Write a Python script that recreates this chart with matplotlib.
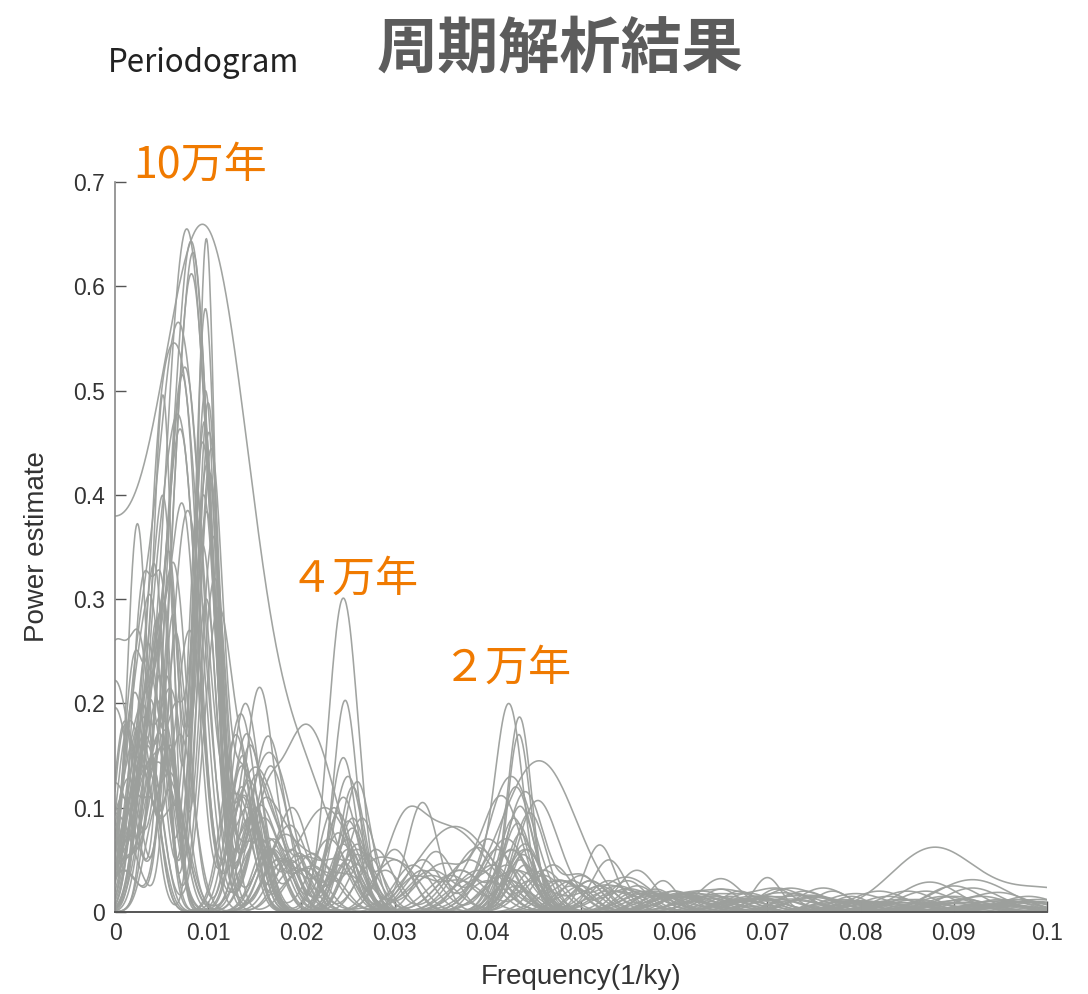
import numpy as np
import matplotlib
matplotlib.use("Agg")
import matplotlib.pyplot as plt

plt.rcParams['font.family'] = ['Noto Sans CJK JP', 'DejaVu Sans']

# ---------------- data (peaks) ----------------
# Each series is the sum of its band peaks: centre (1/ky), height, width
# Band L: lowest frequencies (0 - 0.005)
L_f = [-0.004, 0.0020, 0.0015, 0.000, 0.0010, 0.0030, 0.0038, 0.0012, 0.0010, 0.0015,
       0.0020, 0.0030, 0.000, 0.0025, 0.0010, 0.0020, 0.000, 0.000, 0.0045, 0.000,
       0.0042, 0.0010, 0.0018, 0.0035, 0.0040, 0.0044, 0.0012, 0.0033, 0.0024, 0.0040,
       0.0015, 0.0036, 0.0040, 0.0030, 0.0018, 0.0038, 0.0032, 0.0045, 0.0020, 0.0043,
       0.0015, 0.0025, 0.0035, 0.0010, 0.0030, 0.0028, 0.0015, 0.0042, 0.0008, 0.0034]
L_h = [0.36, 0.06, 0.05, 0.257, 0.04, 0.08, 0.22, 0.05, 0.06, 0.07,
       0.04, 0.31, 0.222, 0.09, 0.05, 0.06, 0.196, 0.124, 0.20, 0.095,
       0.17, 0.05, 0.04, 0.16, 0.27, 0.14, 0.06, 0.19, 0.372, 0.12,
       0.05, 0.23, 0.10, 0.15, 0.08, 0.13, 0.18, 0.11, 0.07, 0.09,
       0.06, 0.12, 0.10, 0.05, 0.08, 0.14, 0.07, 0.11, 0.04, 0.09]
L_w = [0.0050, 0.0015, 0.0015, 0.0022, 0.0015, 0.0014, 0.0012, 0.0016, 0.0015, 0.0014,
       0.0016, 0.0012, 0.0020, 0.0013, 0.0015, 0.0014, 0.0018, 0.0020, 0.0012, 0.0021,
       0.0012, 0.0015, 0.0015, 0.0013, 0.0012, 0.0012, 0.0015, 0.0013, 0.0011, 0.0013,
       0.0015, 0.0012, 0.0012, 0.0013, 0.0015, 0.0012, 0.0013, 0.0012, 0.0015, 0.0012,
       0.0015, 0.0013, 0.0013, 0.0016, 0.0013, 0.0013, 0.0015, 0.0012, 0.0016, 0.0013]

# Band L2: second low-frequency lobe (0.0005 - 0.0065)
L2_f = [0.0040, 0.0008, 0.0050, 0.0030, 0.0060, 0.0012, 0.0055, 0.0025, 0.0045, 0.0035,
        0.0015, 0.0052, 0.0062, 0.0020, 0.0040, 0.0030, 0.0058, 0.0048, 0.0010, 0.0065,
        0.0028, 0.0042, 0.0005, 0.0054, 0.0018, 0.0060, 0.0035, 0.0046, 0.0056, 0.0022,
        0.0038, 0.0064, 0.0012, 0.0050, 0.0030, 0.0058, 0.0008, 0.0044, 0.0026, 0.0062,
        0.0034, 0.0016, 0.0052, 0.0040, 0.0020, 0.0060, 0.0048, 0.0028, 0.0056, 0.0036]
L2_h = [0.00, 0.12, 0.10, 0.15, 0.08, 0.14, 0.30, 0.09, 0.11, 0.13,
        0.07, 0.25, 0.28, 0.16, 0.10, 0.12, 0.32, 0.22, 0.18, 0.26,
        0.14, 0.19, 0.08, 0.24, 0.15, 0.28, 0.12, 0.20, 0.22, 0.10,
        0.18, 0.16, 0.12, 0.21, 0.10, 0.14, 0.09, 0.17, 0.11, 0.13,
        0.08, 0.10, 0.12, 0.09, 0.07, 0.11, 0.08, 0.06, 0.10, 0.07]
L2_w = [0.0010, 0.0010, 0.0012, 0.0011, 0.0009, 0.0012, 0.0010, 0.0013, 0.0011, 0.0012,
        0.0010, 0.0009, 0.0010, 0.0012, 0.0011, 0.0013, 0.0010, 0.0009, 0.0012, 0.0010,
        0.0011, 0.0010, 0.0013, 0.0009, 0.0012, 0.0010, 0.0011, 0.0010, 0.0009, 0.0012,
        0.0011, 0.0010, 0.0012, 0.0009, 0.0011, 0.0010, 0.0013, 0.0010, 0.0012, 0.0009,
        0.0011, 0.0012, 0.0010, 0.0011, 0.0013, 0.0010, 0.0011, 0.0012, 0.0009, 0.0011]

# Band A: 100 ky cycle (~0.01)
A_f = [0.0096, 0.0077, 0.0082, 0.0098, 0.0084, 0.0082, 0.0097, 0.0068, 0.0068, 0.0075,
       0.0072, 0.0097, 0.0100, 0.0052, 0.0068, 0.0070, 0.0096, 0.0101, 0.0094, 0.0103,
       0.0099, 0.0072, 0.0078, 0.0102, 0.0095, 0.0105, 0.0063, 0.0098, 0.0098, 0.0110,
       0.0080, 0.0094, 0.0155, 0.0107, 0.0060, 0.0140, 0.0135, 0.0130, 0.0070, 0.0145,
       0.0058, 0.0060, 0.0150, 0.0062, 0.0065, 0.0160, 0.0055, 0.0165, 0.0058, 0.0175]
A_h = [0.65, 0.655, 0.64, 0.645, 0.63, 0.612, 0.578, 0.565, 0.528, 0.522,
       0.515, 0.50, 0.488, 0.48, 0.473, 0.462, 0.47, 0.46, 0.45, 0.44,
       0.43, 0.39, 0.385, 0.42, 0.40, 0.36, 0.33, 0.38, 0.30, 0.28,
       0.27, 0.35, 0.215, 0.32, 0.21, 0.20, 0.19, 0.17, 0.17, 0.16,
       0.15, 0.13, 0.12, 0.11, 0.10, 0.09, 0.08, 0.07, 0.06, 0.05]
A_w = [0.0052, 0.0024, 0.0020, 0.0010, 0.0018, 0.0020, 0.0012, 0.0026, 0.0024, 0.0020,
       0.0017, 0.0012, 0.0012, 0.0010, 0.0020, 0.0018, 0.0012, 0.0013, 0.0014, 0.0013,
       0.0014, 0.0016, 0.0018, 0.0012, 0.0014, 0.0013, 0.0015, 0.0013, 0.0012, 0.0015,
       0.0016, 0.0013, 0.0016, 0.0014, 0.0015, 0.0016, 0.0016, 0.0015, 0.0015, 0.0015,
       0.0014, 0.0015, 0.0016, 0.0015, 0.0015, 0.0017, 0.0014, 0.0016, 0.0014, 0.0017]

# Band B2: shoulder after the 100 ky peak (0.013 - 0.022)
B2_f = [0.0140, 0.0150, 0.0135, 0.0160, 0.0145, 0.0170, 0.0142, 0.0136, 0.0155, 0.0165,
        0.0138, 0.0148, 0.0175, 0.0136, 0.0158, 0.0144, 0.0168, 0.0152, 0.0185, 0.0140,
        0.0178, 0.0136, 0.0162, 0.0146, 0.0190, 0.0156, 0.0137, 0.0172, 0.0150, 0.0142,
        0.0182, 0.0138, 0.0200, 0.0200, 0.0148, 0.0200, 0.0185, 0.0190, 0.0195, 0.0195,
        0.0166, 0.0137, 0.0180, 0.0153, 0.0210, 0.0205, 0.0170, 0.0210, 0.0188, 0.0215]
B2_h = [0.00, 0.06, 0.08, 0.05, 0.124, 0.07, 0.10, 0.09, 0.095, 0.06,
        0.11, 0.08, 0.05, 0.12, 0.07, 0.09, 0.06, 0.10, 0.05, 0.13,
        0.06, 0.14, 0.07, 0.09, 0.04, 0.08, 0.15, 0.06, 0.10, 0.11,
        0.05, 0.13, 0.04, 0.04, 0.09, 0.04, 0.05, 0.06, 0.04, 0.05,
        0.06, 0.11, 0.05, 0.07, 0.04, 0.05, 0.06, 0.05, 0.05, 0.04]
B2_w = [0.0015, 0.0014, 0.0016, 0.0013, 0.0015, 0.0017, 0.0014, 0.0013, 0.0016, 0.0015,
        0.0014, 0.0013, 0.0017, 0.0014, 0.0015, 0.0016, 0.0014, 0.0013, 0.0018, 0.0014,
        0.0016, 0.0013, 0.0015, 0.0014, 0.0018, 0.0015, 0.0013, 0.0016, 0.0014, 0.0015,
        0.0017, 0.0013, 0.0015, 0.0018, 0.0014, 0.0016, 0.0013, 0.0015, 0.0018, 0.0014,
        0.0016, 0.0013, 0.0017, 0.0015, 0.0018, 0.0014, 0.0016, 0.0015, 0.0017, 0.0015]

# Band B: 41 ky obliquity (~0.025)
B_f = [0.0210, 0.0245, 0.0247, 0.0205, 0.0245, 0.0250, 0.0260, 0.0255, 0.0225, 0.0330,
       0.0190, 0.0360, 0.0240, 0.0265, 0.0170, 0.0230, 0.0250, 0.0280, 0.0160, 0.0245,
       0.0215, 0.0255, 0.0175, 0.0300, 0.0240, 0.0185, 0.0260, 0.0145, 0.0235, 0.0270,
       0.0250, 0.0165, 0.0240, 0.0255, 0.0240, 0.0260, 0.0290, 0.0250, 0.0180, 0.0230,
       0.0260, 0.0200, 0.0245, 0.0320, 0.0155, 0.0275, 0.0250, 0.0250, 0.0340, 0.0260]
B_h = [0.08, 0.301, 0.203, 0.18, 0.148, 0.13, 0.125, 0.12, 0.10, 0.105,
       0.10, 0.08, 0.095, 0.09, 0.11, 0.07, 0.085, 0.06, 0.13, 0.11,
       0.05, 0.09, 0.08, 0.06, 0.075, 0.07, 0.065, 0.12, 0.10, 0.055,
       0.06, 0.09, 0.05, 0.08, 0.045, 0.06, 0.04, 0.07, 0.05, 0.035,
       0.055, 0.04, 0.065, 0.03, 0.07, 0.04, 0.05, 0.035, 0.03, 0.045]
B_w = [0.0030, 0.0016, 0.0013, 0.0032, 0.0014, 0.0016, 0.0015, 0.0014, 0.0030, 0.0017,
       0.0018, 0.0040, 0.0015, 0.0016, 0.0018, 0.0020, 0.0014, 0.0018, 0.0020, 0.0016,
       0.0022, 0.0015, 0.0020, 0.0018, 0.0015, 0.0020, 0.0016, 0.0018, 0.0016, 0.0018,
       0.0016, 0.0020, 0.0022, 0.0016, 0.0015, 0.0020, 0.0018, 0.0016, 0.0020, 0.0018,
       0.0016, 0.0020, 0.0015, 0.0018, 0.0020, 0.0018, 0.0016, 0.0020, 0.0018, 0.0016]

# Band C: 23/19 ky precession (~0.043)
C_f = [0.0430, 0.0423, 0.0434, 0.0433, 0.0455, 0.0425, 0.0430, 0.0440, 0.0415, 0.0440,
       0.0400, 0.0520, 0.0530, 0.0435, 0.0445, 0.0410, 0.0428, 0.0380, 0.0450, 0.0435,
       0.0420, 0.0470, 0.0390, 0.0432, 0.0440, 0.0500, 0.0425, 0.0460, 0.0438, 0.0405,
       0.0430, 0.0480, 0.0370, 0.0442, 0.0420, 0.0510, 0.0435, 0.0395, 0.0448, 0.0425,
       0.0440, 0.0365, 0.0430, 0.0490, 0.0415, 0.0445, 0.0430, 0.0475, 0.0438, 0.0400]
C_h = [0.04, 0.193, 0.187, 0.165, 0.145, 0.13, 0.12, 0.115, 0.11, 0.06,
       0.07, 0.064, 0.05, 0.10, 0.095, 0.06, 0.09, 0.05, 0.08, 0.075,
       0.07, 0.045, 0.04, 0.085, 0.065, 0.035, 0.06, 0.04, 0.055, 0.045,
       0.05, 0.03, 0.04, 0.06, 0.045, 0.03, 0.05, 0.035, 0.04, 0.03,
       0.045, 0.082, 0.04, 0.025, 0.035, 0.03, 0.025, 0.03, 0.02, 0.03]
C_w = [0.0030, 0.0015, 0.0013, 0.0012, 0.0040, 0.0025, 0.0018, 0.0020, 0.0022, 0.0020,
       0.0025, 0.0016, 0.0018, 0.0016, 0.0018, 0.0020, 0.0016, 0.0025, 0.0020, 0.0015,
       0.0022, 0.0020, 0.0025, 0.0016, 0.0018, 0.0020, 0.0018, 0.0022, 0.0016, 0.0022,
       0.0018, 0.0020, 0.0025, 0.0016, 0.0020, 0.0018, 0.0016, 0.0022, 0.0018, 0.0020,
       0.0016, 0.0040, 0.0018, 0.0020, 0.0022, 0.0018, 0.0016, 0.0020, 0.0018, 0.0022]

# Band D: high frequencies (0.055 - 0.1)
D_f = [0.0620, 0.0700, 0.0850, 0.0600, 0.0878, 0.0750, 0.0920, 0.0588, 0.0680, 0.0900,
       0.0650, 0.0800, 0.0720, 0.0950, 0.0560, 0.0780, 0.0630, 0.0870, 0.0690, 0.0980,
       0.0610, 0.0740, 0.0830, 0.0580, 0.0910, 0.0660, 0.0770, 0.0940, 0.0600, 0.0710,
       0.0860, 0.0640, 0.0960, 0.0730, 0.0570, 0.0820, 0.0670, 0.0890, 0.0760, 0.0990,
       0.0590, 0.0810, 0.0700, 0.0930, 0.0650, 0.0840, 0.0620, 0.0790, 0.0970, 0.0680]
D_h = [0.015, 0.033, 0.012, 0.020, 0.061, 0.015, 0.031, 0.030, 0.018, 0.025,
       0.022, 0.010, 0.020, 0.018, 0.025, 0.012, 0.020, 0.020, 0.015, 0.015,
       0.018, 0.020, 0.015, 0.022, 0.012, 0.018, 0.020, 0.010, 0.015, 0.022,
       0.012, 0.015, 0.010, 0.018, 0.020, 0.010, 0.020, 0.015, 0.012, 0.010,
       0.015, 0.010, 0.012, 0.015, 0.020, 0.012, 0.010, 0.015, 0.012, 0.010]
D_w = [0.0025, 0.0015, 0.0030, 0.0020, 0.0045, 0.0030, 0.0040, 0.0015, 0.0025, 0.0030,
       0.0020, 0.0030, 0.0025, 0.0030, 0.0020, 0.0030, 0.0025, 0.0030, 0.0025, 0.0030,
       0.0020, 0.0025, 0.0030, 0.0020, 0.0030, 0.0025, 0.0020, 0.0030, 0.0025, 0.0020,
       0.0030, 0.0025, 0.0030, 0.0020, 0.0025, 0.0030, 0.0020, 0.0030, 0.0025, 0.0030,
       0.0020, 0.0030, 0.0025, 0.0030, 0.0020, 0.0030, 0.0025, 0.0020, 0.0030, 0.0025]

# Band E: extra ripples (0.03 - 0.1)
E_f = [0.0520, 0.0380, 0.0560, 0.0480, 0.1000, 0.0330, 0.0600, 0.0500, 0.0350, 0.0750,
       0.0550, 0.0310, 0.0640, 0.0370, 0.0820, 0.0530, 0.0300, 0.0690, 0.0470, 0.0580,
       0.0340, 0.0620, 0.0510, 0.0880, 0.0360, 0.0730, 0.0490, 0.0320, 0.0900, 0.0540,
       0.0390, 0.0700, 0.0460, 0.0850, 0.0330, 0.0610, 0.0520, 0.0380, 0.0950, 0.0560,
       0.0340, 0.0780, 0.0500, 0.0370, 0.0650, 0.0310, 0.0920, 0.0540, 0.0350, 0.0600]
E_h = [0.020, 0.030, 0.040, 0.030, 0.022, 0.050, 0.020, 0.035, 0.045, 0.015,
       0.030, 0.060, 0.015, 0.040, 0.020, 0.030, 0.050, 0.012, 0.035, 0.020,
       0.040, 0.015, 0.030, 0.020, 0.035, 0.012, 0.030, 0.045, 0.015, 0.025,
       0.030, 0.012, 0.035, 0.020, 0.040, 0.015, 0.025, 0.030, 0.012, 0.020,
       0.035, 0.010, 0.025, 0.030, 0.012, 0.040, 0.015, 0.020, 0.030, 0.015]
E_w = [0.0025, 0.0025, 0.0020, 0.0025, 0.0050, 0.0020, 0.0025, 0.0020, 0.0025, 0.0030,
       0.0020, 0.0020, 0.0025, 0.0025, 0.0030, 0.0020, 0.0020, 0.0030, 0.0025, 0.0020,
       0.0025, 0.0025, 0.0020, 0.0030, 0.0025, 0.0030, 0.0020, 0.0020, 0.0030, 0.0025,
       0.0025, 0.0030, 0.0020, 0.0030, 0.0020, 0.0025, 0.0020, 0.0025, 0.0030, 0.0020,
       0.0025, 0.0030, 0.0020, 0.0025, 0.0030, 0.0020, 0.0030, 0.0025, 0.0020, 0.0025]

# Band F: low-level ripples at high frequency (0.05 - 0.1)
F_f = [0.0560, 0.0900, 0.0660, 0.0780, 0.0620, 0.0960, 0.0710, 0.0840, 0.0540, 0.0680,
       0.0930, 0.0600, 0.0770, 0.0880, 0.0640, 0.0990, 0.0730, 0.0580, 0.0820, 0.0700,
       0.0950, 0.0550, 0.0670, 0.0860, 0.0750, 0.0610, 0.0910, 0.0800, 0.0650, 0.0970,
       0.0570, 0.0720, 0.0890, 0.0630, 0.0810, 0.0690, 0.0940, 0.0590, 0.0760, 0.0870,
       0.0530, 0.0980, 0.0740, 0.0610, 0.0850, 0.0680, 0.0920, 0.0560, 0.0790, 0.0950]
F_h = [0.012, 0.008, 0.015, 0.010, 0.018, 0.006, 0.012, 0.009, 0.020, 0.014,
       0.007, 0.016, 0.010, 0.008, 0.013, 0.012, 0.011, 0.018, 0.009, 0.015,
       0.008, 0.022, 0.012, 0.010, 0.014, 0.016, 0.009, 0.011, 0.013, 0.010,
       0.018, 0.012, 0.008, 0.015, 0.010, 0.013, 0.007, 0.017, 0.011, 0.009,
       0.020, 0.010, 0.012, 0.014, 0.009, 0.013, 0.008, 0.016, 0.011, 0.007]
F_w = [0.0030, 0.0035, 0.0025, 0.0030, 0.0028, 0.0035, 0.0030, 0.0032, 0.0025, 0.0030,
       0.0035, 0.0028, 0.0030, 0.0032, 0.0026, 0.0035, 0.0030, 0.0028, 0.0032, 0.0030,
       0.0035, 0.0025, 0.0030, 0.0032, 0.0028, 0.0026, 0.0035, 0.0030, 0.0028, 0.0035,
       0.0026, 0.0030, 0.0032, 0.0028, 0.0030, 0.0028, 0.0035, 0.0026, 0.0030, 0.0032,
       0.0025, 0.0035, 0.0030, 0.0028, 0.0032, 0.0028, 0.0035, 0.0026, 0.0030, 0.0035]

x_ticks = [0, 0.01, 0.02, 0.03, 0.04, 0.05, 0.06, 0.07, 0.08, 0.09, 0.1]
x_tick_labels = ["0", "0.01", "0.02", "0.03", "0.04", "0.05", "0.06", "0.07", "0.08", "0.09", "0.1"]
y_ticks = [0, 0.1, 0.2, 0.3, 0.4, 0.5, 0.6, 0.7]
y_tick_labels = ["0", "0.1", "0.2", "0.3", "0.4", "0.5", "0.6", "0.7"]

annotations = [("10万年", 0.0020, 0.716), ("４万年", 0.0187, 0.319), ("２万年", 0.0351, 0.233)]

# ---------------- figure ----------------
fig = plt.figure(figsize=(10.88, 9.94), dpi=100)
ax = fig.add_axes([0.1057, 0.0825, 0.8566, 0.7344])

freq = np.linspace(0, 0.1, 1500)
bands = [(L_f, L_h, L_w), (L2_f, L2_h, L2_w), (A_f, A_h, A_w), (B2_f, B2_h, B2_w),
         (B_f, B_h, B_w), (C_f, C_h, C_w), (D_f, D_h, D_w), (E_f, E_h, E_w),
         (F_f, F_h, F_w)]
n_series = len(A_f)
for i in range(n_series):
    p = np.zeros_like(freq)
    for cf, ch, cw in bands:
        p += ch[i] * np.exp(-0.5 * ((freq - cf[i]) / cw[i]) ** 2)
    ax.plot(freq, p, color='#9c9f9c', lw=1.15, alpha=0.95)

ax.set_xlim(0, 0.1)
ax.set_ylim(0, 0.7)
ax.set_xticks(x_ticks)
ax.set_xticklabels(x_tick_labels)
ax.set_yticks(y_ticks)
ax.set_yticklabels(y_tick_labels)
ax.tick_params(direction='in', length=8, width=1.0, colors='#555555',
               labelcolor='#333333', labelsize=16.5, pad=7)
for lab in ax.get_xticklabels() + ax.get_yticklabels():
    lab.set_family(['Liberation Sans', 'DejaVu Sans'])
for s in ['top', 'right']:
    ax.spines[s].set_visible(False)
ax.spines['left'].set_color('#888888')
ax.spines['bottom'].set_color('#555555')
ax.spines['left'].set_linewidth(1.2)
ax.spines['bottom'].set_linewidth(1.4)

ax.set_xlabel("Frequency(1/ky)", fontsize=20, color='#333333', labelpad=14,
              family=['Liberation Sans', 'DejaVu Sans'])
ax.set_ylabel("Power estimate", fontsize=20, color='#333333', labelpad=17,
              family=['Liberation Sans', 'DejaVu Sans'])

for txt, fx, fy in annotations:
    ax.text(fx, fy, txt, color='#f07a00', fontsize=31, ha='left', va='center',
            clip_on=False)

fig.text(0.099, 0.937, "Periodogram", fontsize=22.5, color='#222222', ha='left', va='center')
fig.text(0.515, 0.950, "周期解析結果", fontsize=44, fontweight='bold', color='#5c5c5c',
         ha='center', va='center')

fig.savefig("out.png", dpi=100)
